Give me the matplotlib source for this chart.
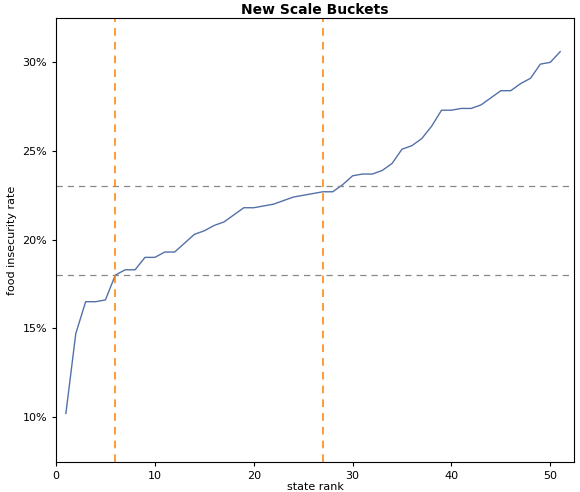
import matplotlib
matplotlib.use('Agg')
import matplotlib.pyplot as plt
from matplotlib.ticker import FuncFormatter

# food insecurity rate by state rank (percent)
rank = list(range(1, 52))
rate = [10.2, 14.7, 16.5, 16.5, 16.6, 18.0, 18.3, 18.3, 19.0, 19.0,
        19.3, 19.3, 19.8, 20.3, 20.5, 20.8, 21.0, 21.4, 21.8, 21.8,
        21.9, 22.0, 22.2, 22.4, 22.5, 22.6, 22.7, 22.7, 23.1, 23.6,
        23.7, 23.7, 23.9, 24.3, 25.1, 25.3, 25.7, 26.4, 27.3, 27.3,
        27.4, 27.4, 27.6, 28.0, 28.4, 28.4, 28.8, 29.1, 29.9, 30.0, 30.6]
bucket_rates = [23, 18]
bucket_ranks = [6, 27]

fig = plt.figure(figsize=(5.8, 4.92), dpi=100)
ax = fig.add_axes([56/580, 30/492, 518/580, 444/492])
ax.plot(rank, rate, color='#5470a8', lw=1)
for y in bucket_rates:
    ax.axhline(y, color='#888888', ls=(0, (5, 4)), lw=0.9)
for x in bucket_ranks:
    ax.axvline(x, color='#ff8000', ls=(0, (5, 4)), lw=1.1)

ax.set_xlim(0, 52.4)
ax.set_ylim(7.46, 32.5)
ax.set_yticks([10, 15, 20, 25, 30])
ax.yaxis.set_major_formatter(FuncFormatter(lambda v, p: f'{v:.0f}%'))
ax.set_xticks([0, 10, 20, 30, 40, 50])
ax.tick_params(labelsize=8, length=3)
ax.set_xlabel('state rank', fontsize=8, labelpad=1)
ax.set_ylabel('food insecurity rate', fontsize=8)
ax.set_title('New Scale Buckets', fontsize=10, fontweight='bold', pad=3)
fig.savefig('out.png', dpi=100)
